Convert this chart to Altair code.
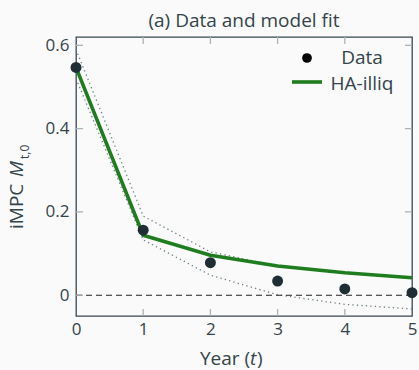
import altair as alt
import pandas as pd

# Annual horizon and iMPC values
years = [0, 1, 2, 3, 4, 5]
data_impc = [0.547, 0.156, 0.078, 0.034, 0.015, 0.006]
model_impc = [0.547, 0.144, 0.096, 0.070, 0.054, 0.042]
band_upper = [0.590, 0.190, 0.104, 0.070, 0.053, 0.041]
band_lower = [0.520, 0.133, 0.048, 0.001, -0.022, -0.033]

y_ticks = [0, 0.2, 0.4, 0.6]
x_ticks = [0, 1, 2, 3, 4, 5]

TEXT = "#34444b"
DOT = "#1f2e35"
GREEN = "#1f7d1f"
FONT = "Open Sans"
W, H = 336, 279

df_data = pd.DataFrame({"t": years, "v": data_impc})
df_model = pd.DataFrame({"t": years, "v": model_impc})
df_band = pd.DataFrame({
    "t": years + years,
    "v": band_upper + band_lower,
    "b": ["upper"] * len(years) + ["lower"] * len(years),
})

xs = alt.Scale(domain=[0, 5], nice=False, zero=False)
ys = alt.Scale(domain=[-0.05, 0.62], nice=False, zero=False)

x_axis = alt.Axis(values=x_ticks, title=None, labelPadding=5, labelFlush=False)
y_axis = alt.Axis(values=y_ticks, title=None, labelPadding=7,
                  labelExpr="datum.value == 0 ? '0' : format(datum.value, '.1f')")

X = alt.X("t:Q", scale=xs, axis=x_axis)
Y = alt.Y("v:Q", scale=ys, axis=y_axis)

bands = alt.Chart(df_band).mark_line(
    color="#6f7f88", strokeWidth=1.3, strokeDash=[1.3, 3.2]
).encode(x=X, y=Y, detail="b:N")

zero = alt.Chart(pd.DataFrame({"v": [0]})).mark_rule(
    color="#222", strokeWidth=1.1, strokeDash=[6, 4]
).encode(y=Y)

model = alt.Chart(df_model).mark_line(color=GREEN, strokeWidth=3.6).encode(x=X, y=Y)

points = alt.Chart(df_data).mark_circle(color=DOT, size=120, opacity=1).encode(x=X, y=Y)

# Inward tick marks on all four sides of the frame
tick_color = "#a9b3b8"
inner_x = [1, 2, 3, 4]
inner_y = [0.2, 0.4, 0.6]
tick_left = alt.Chart(pd.DataFrame({"v": y_ticks})).mark_rule(color=tick_color, strokeWidth=1.3).encode(
    y=Y, x=alt.value(0), x2=alt.value(7))
tick_right = alt.Chart(pd.DataFrame({"v": inner_y})).mark_rule(color=tick_color, strokeWidth=1.3).encode(
    y=Y, x=alt.value(W - 7), x2=alt.value(W))
tick_bottom = alt.Chart(pd.DataFrame({"t": inner_x})).mark_rule(color=tick_color, strokeWidth=1.3).encode(
    x=X, y=alt.value(H - 7), y2=alt.value(H))
tick_top = alt.Chart(pd.DataFrame({"t": inner_x})).mark_rule(color=tick_color, strokeWidth=1.3).encode(
    x=X, y=alt.value(0), y2=alt.value(7))

one = pd.DataFrame({"k": [0]})

def label(text, x, y, size=19, italic=False, angle=0, align="left", color=TEXT):
    kw = dict(text=text, fontSize=size, font=FONT, color=color, align=align,
              baseline="alphabetic", angle=angle)
    if italic:
        kw["fontStyle"] = "italic"
    return alt.Chart(one).mark_text(**kw).encode(x=alt.value(x), y=alt.value(y))

# Legend
leg_dot = alt.Chart(one).mark_circle(color="#000", size=95, opacity=1).encode(
    x=alt.value(231), y=alt.value(21))
leg_line = alt.Chart(one).mark_rule(color=GREEN, strokeWidth=3.6).encode(
    x=alt.value(216), x2=alt.value(246), y=alt.value(45))
leg_t1 = label("Data", 286, 27, size=19, align="center")
leg_t2 = label("HA-illiq", 286, 53, size=19, align="center")

# Axis titles with italic math parts
xt1 = label("Year (", 124, 328)
xt2 = label("t", 174, 328, italic=True)
xt3 = label(")", 181, 328)
yt1 = label("iMPC", -53, 192, angle=270)
yt2 = label("M", -53, 140, italic=True, angle=270)
yt3 = label("t,0", -47, 122, size=12, angle=270)

chart = alt.layer(
    bands, zero, model, points,
    tick_left, tick_right, tick_bottom, tick_top,
    leg_dot, leg_line, leg_t1, leg_t2,
    xt1, xt2, xt3, yt1, yt2, yt3,
).properties(
    width=W, height=H,
    title=alt.TitleParams("(a) Data and model fit", fontSize=19, font=FONT, color=TEXT,
                          fontWeight="normal", anchor="middle", offset=5),
    autosize=alt.AutoSizeParams(type="none"),
    padding={"left": 76, "top": 37, "right": 7, "bottom": 54},
    background="#fafafa",
).configure_view(
    stroke="#37474f", strokeWidth=1.3
).configure_axis(
    domain=False, ticks=False, grid=False,
    labelFontSize=17, labelColor=TEXT, labelFont=FONT,
)

chart.save("out.html", embed_options={"renderer": "svg", "actions": False})
